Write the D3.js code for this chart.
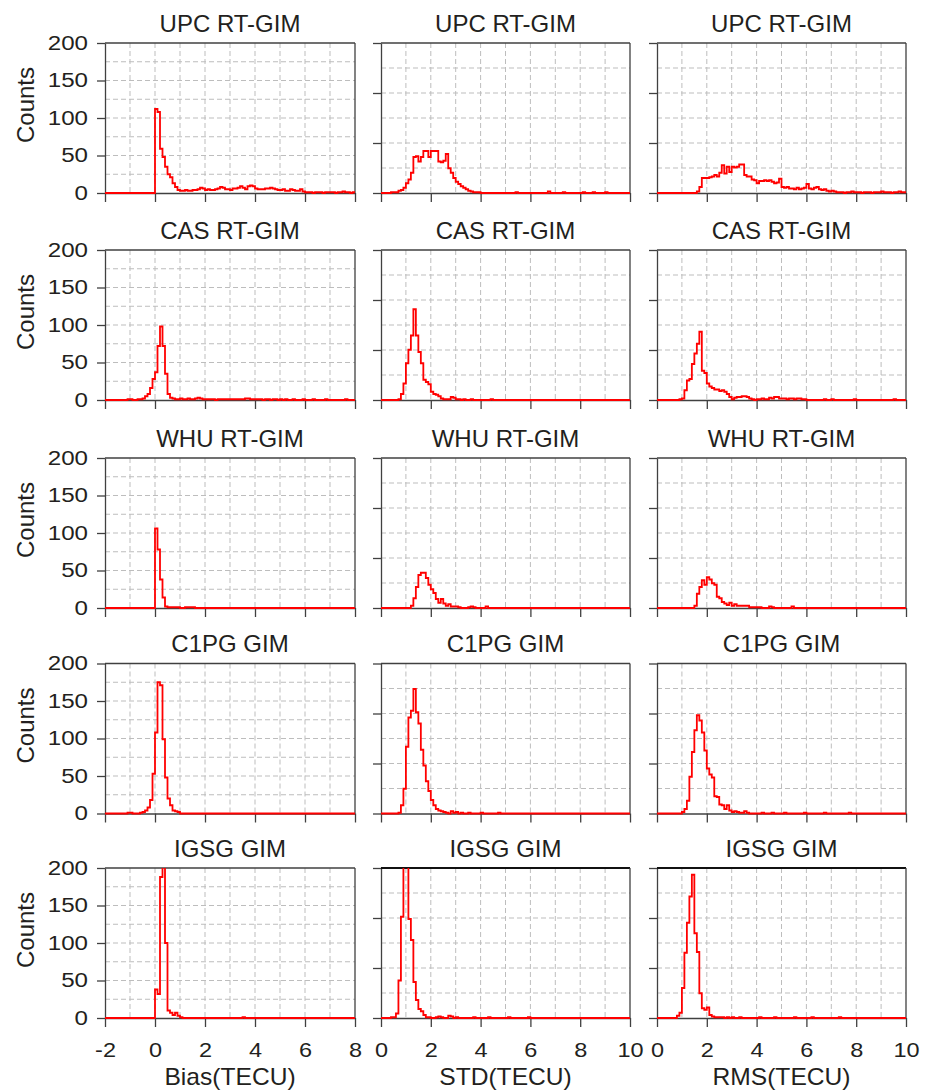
<!DOCTYPE html>
<html>
<head>
<meta charset="utf-8">
<script src="https://cdn.jsdelivr.net/npm/d3@7"></script>
<style>
  body { margin: 0; background: #fff; }
  svg text { font-family: "Liberation Sans", Arial, sans-serif; fill: #231f20; }
</style>
</head>
<body>
<svg id="chart" width="933" height="1090"></svg>
<script>
const binWidth = 0.1;
const rowTitles = ['UPC RT-GIM', 'CAS RT-GIM', 'WHU RT-GIM', 'C1PG GIM', 'IGSG GIM'];
const colTitles = ['Bias(TECU)', 'STD(TECU)', 'RMS(TECU)'];
const biasDomain = [-2, 8];
const errDomain = [0, 10];
const countDomain = [0, 200];
const countTicks = [0, 50, 100, 150, 200];
const biasTicks = [-2, 0, 2, 4, 6, 8];
const errTicks = [0, 2, 4, 6, 8, 10];

// histogram counts per 0.1 TECU bin, *Start = left edge of first bin
const upcBiasStart = 0.0;
const upcBias = [112,108,59,48,35,25,21,13,8,4, 3,3,4,3,3,4,4,5,7,6, 4,5,4,4,5,6,8,7,5,5,
  4,6,6,7,9,7,5,9,10,9, 6,5,5,5,6,6,7,6,5,4, 4,5,3,3,5,4,3,3,5,2, 1,1,1,0,1,1,1,0,1,1, 1,1,0,1,1,2,1,1,0,1];
const upcStdStart = 0.0;
const upcStd = [0,0,0,0,1,1,1,3,4,7, 13,18,27,48,49,42,48,56,56,48, 56,56,56,42,41,43,52,33,27,20,
  15,12,9,7,5,3,2,1,1,1, 0,0,0,0,0,0,0,0,0,0, 0,0,0,0,1,0,0,0,0,0, 0,0,0,0,0,0,0,2,0,0,
  0,0,0,1,0,0,0,0,0,0, 0,1,0,0,0,1,0,0,0,0, 1];
const upcRmsStart = 1.6;
const upcRms = [2,8,20,20,20,21,22,24,22,27, 37,26,35,28,35,34,35,38,38,24, 22,22,18,17,13,16,16,17,16,17,
  15,13,14,19,8,7,8,6,6,5, 7,5,6,7,12,6,5,7,8,5, 4,5,3,2,3,2,1,1,1,0, 1,1,2,1,1,1,0,1,1,1,
  0,1,1,1,2,1,1,1,0,1, 1,2,1,1];

const casBiasStart = -1.1;
const casBias = [1,1,0,0,1,1,2,5,8,16, 28,37,72,98,72,35,8,3,2,1, 1,2,1,1,2,1,1,2,3,2,
  1,1,1,1,1,0,1,1,1,1, 1,1,1,1,1,1,1,2,2,1, 1,1,1,1,0,1,1,0,1,1, 0,1,0,1,0,0,1,0,0,0,
  1,0,0,0,1,0,0,0,0,1, 0,0,0,0,0,0,0,1];
const casStdStart = 0.7;
const casStd = [1,8,22,49,67,86,121,86,64,49, 27,24,21,11,8,7,5,2,1,1, 1,4,3,1,1,0,1,0,0,1,
  0,0,0,0,0,0,0,1];
const casRmsStart = 0.9;
const casRms = [1,2,13,26,28,48,62,75,91,39, 36,22,18,16,14,14,12,13,11,8, 4,1,3,4,4,5,5,4,2,1,
  0,1,1,2,1,1,3,2,4,4, 2,2,2,1,2,2,1,2,2,1, 1,0,0,0,0,0,0,0,1,0, 0,1,0,0,0,0,0,0,0,0,
  1,0,0,0,0,0,0,0,0,0, 0,0,0,0,0,0,1];

const whuBiasStart = 0.0;
const whuBias = [106,78,38,14,2,1,1,1,1,1, 0,0,1,1,1,1];
const whuStdStart = 1.2;
const whuStd = [3,13,28,44,47,47,40,31,25,20, 12,7,12,6,3,5,2,2,2,1, 0,0,0,1,2,1,0,0,0,0, 2];
const whuRmsStart = 1.5;
const whuRms = [3,19,28,37,31,41,38,33,31,15, 13,8,6,4,7,3,5,3,3,3, 3,3,1,1,1,1,1,0,0,0,
  2,1,0,0,0,0,0,0,0,2];

const c1pgBiasStart = -1.1;
const c1pgBias = [1,1,0,0,0,1,2,4,8,18, 53,108,175,171,99,48,20,11,4,3, 2];
const c1pgStdStart = 0.7;
const c1pgStd = [1,11,33,89,128,137,166,135,120,85, 64,43,30,18,11,6,4,3,2,1, 0,3,1,2,0,1,0,0,1,0,
  0,0,0,1,0,0,0,0,0,0, 1];
const c1pgRmsStart = 1.0;
const c1pgRms = [2,6,17,49,82,111,131,124,108,84, 60,52,48,23,22,12,11,6,11,4, 2,3,2,1,1,3,1,0,0,0,
  0,0,1,0,0,0,1,0,0,0, 0,1,0,0,0,0,0,0,0,1, 0,0,0,0,0,0,0,1,0,0, 0,0,0,0,0,0,0,1];

const igsgBiasStart = 0.0;
const igsgBias = [38,32,188,240,100,10,7,4,7,3, 1,0,0,0,0,0,0,0,0,0, 0,0,0,0,0,0,0,0,0,0, 0,0,0,0,0,1];
const igsgStdStart = 0.4;
const igsgStd = [1,1,6,50,135,230,220,132,104,48, 24,12,9,4,1,1,0,0,1,2, 1,0,0,3,2,0,1,0,0,0,
  0,0,0,1,0,0,0,0,0,1, 0,0,0,0,0,0,0,1,0,0, 0,0,0,0,0,1];
const igsgRmsStart = 0.8;
const igsgRms = [3,7,40,87,127,162,191,113,88,33, 13,11,14,4,2,1,1,1,1,0, 1,0,1,0,0,1,0,0,0,0,
  0,0,0,1,0,0,0,0,0,1, 0,0,0,0,0,0,0,1,0,0, 0,0,0,0,1,0,0,0,0,0, 0,0,0,0,0,1];

const series = [
  [[upcBiasStart, upcBias], [upcStdStart, upcStd], [upcRmsStart, upcRms]],
  [[casBiasStart, casBias], [casStdStart, casStd], [casRmsStart, casRms]],
  [[whuBiasStart, whuBias], [whuStdStart, whuStd], [whuRmsStart, whuRms]],
  [[c1pgBiasStart, c1pgBias], [c1pgStdStart, c1pgStd], [c1pgRmsStart, c1pgRms]],
  [[igsgBiasStart, igsgBias], [igsgStdStart, igsgStd], [igsgRmsStart, igsgRms]],
];

// layout
const colLeft = [105, 381, 657];
const colWidth = [250, 249, 249];
const rowTop = [43, 250, 458, 663.5, 868];
const plotH = 150;
const frameColor = '#404040';

const svg = d3.select('#chart');

// expand a stored run of counts to every bin of the domain
function toBins(start, counts, domain) {
  const n = Math.round((domain[1] - domain[0]) / binWidth);
  const off = Math.round((start - domain[0]) / binWidth);
  const pts = d3.range(n).map(i => [domain[0] + i * binWidth, counts[i - off] || 0]);
  pts.push([domain[1], pts[n - 1][1]]);
  return pts;
}

const plain = d => String(d); // keep ASCII hyphen for negatives

series.forEach((row, r) => {
  row.forEach(([start, counts], c) => {
    const w = colWidth[c];
    const domain = c === 0 ? biasDomain : errDomain;
    const x = d3.scaleLinear(domain, [0, w]);
    const y = d3.scaleLinear(countDomain, [plotH, 0]);
    const g = svg.append('g').attr('transform', `translate(${colLeft[c]},${rowTop[r]})`);

    // dashed grid
    const vGrid = d3.range(domain[0] + 1, domain[1]);
    const hGrid = c === 0 ? d3.range(25, 200, 25) : d3.range(1, 6).map(i => i * 200 / 6);
    const grid = g.append('g').attr('stroke', '#bdbdbd').attr('stroke-dasharray', '5,3').attr('stroke-width', 1);
    grid.selectAll('.vg').data(vGrid).join('line')
      .attr('x1', d => x(d)).attr('x2', d => x(d)).attr('y1', 0).attr('y2', plotH);
    grid.selectAll('.hg').data(hGrid).join('line')
      .attr('x1', 0).attr('x2', w).attr('y1', d => y(d)).attr('y2', d => y(d));

    // axes
    const last = r === series.length - 1;
    const xAxis = d3.axisBottom(x)
      .tickValues(c === 0 ? biasTicks : errTicks)
      .tickSize(9).tickSizeOuter(0)
      .tickFormat(last ? plain : '');
    const xg = g.append('g').attr('transform', `translate(0,${plotH})`).call(xAxis);

    const yAxis = d3.axisLeft(y)
      .tickValues(c === 0 ? countTicks : [0, 200 / 3, 400 / 3, 200])
      .tickSize(8).tickSizeOuter(0)
      .tickFormat(c === 0 ? plain : '');
    const yg = g.append('g').call(yAxis);

    [xg, yg].forEach(a => {
      a.selectAll('path, line').attr('stroke', frameColor).attr('stroke-width', 1.3);
      a.selectAll('text').attr('fill', '#231f20');
    });
    xg.selectAll('text')
      .attr('y', null).attr('dy', null)
      .style('font-size', '21px')
      .attr('transform', 'translate(0,38.5) scale(1.12,1)');
    yg.selectAll('text')
      .attr('x', null).attr('dy', null)
      .style('font-size', '21px')
      .attr('transform', 'translate(-17,6) scale(1.15,1)');

    // top and right frame
    const topStrong = last && c > 0;
    g.append('line').attr('x1', 0).attr('x2', w).attr('y1', 0).attr('y2', 0)
      .attr('stroke', topStrong ? '#111' : frameColor).attr('stroke-width', topStrong ? 2 : 1.3);
    g.append('line').attr('x1', w).attr('x2', w).attr('y1', 0).attr('y2', plotH)
      .attr('stroke', frameColor).attr('stroke-width', 1.3);

    // histogram outline
    const clipId = `clip-${r}-${c}`;
    g.append('clipPath').attr('id', clipId)
      .append('rect').attr('x', 0).attr('y', 0).attr('width', w).attr('height', plotH + 2);
    const line = d3.line().x(d => x(d[0])).y(d => y(d[1])).curve(d3.curveStepAfter);
    g.append('path')
      .datum(toBins(start, counts, domain))
      .attr('clip-path', `url(#${clipId})`)
      .attr('fill', 'none')
      .attr('stroke', '#ff0000')
      .attr('stroke-width', 1.8)
      .attr('d', line);

    // panel title
    g.append('text')
      .attr('x', w / 2).attr('y', -11.5)
      .attr('text-anchor', 'middle')
      .style('font-size', '24px')
      .text(rowTitles[r]);

    if (c === 0) {
      g.append('text')
        .attr('transform', `translate(-71,62) rotate(-90)`)
        .attr('text-anchor', 'middle')
        .style('font-size', '24px')
        .text('Counts');
    }
    if (last) {
      g.append('text')
        .attr('transform', `translate(${w / 2},${plotH + 67}) scale(1.07,1)`)
        .attr('text-anchor', 'middle')
        .style('font-size', '23px')
        .text(colTitles[c]);
    }
  });
});
</script>
</body>
</html>
